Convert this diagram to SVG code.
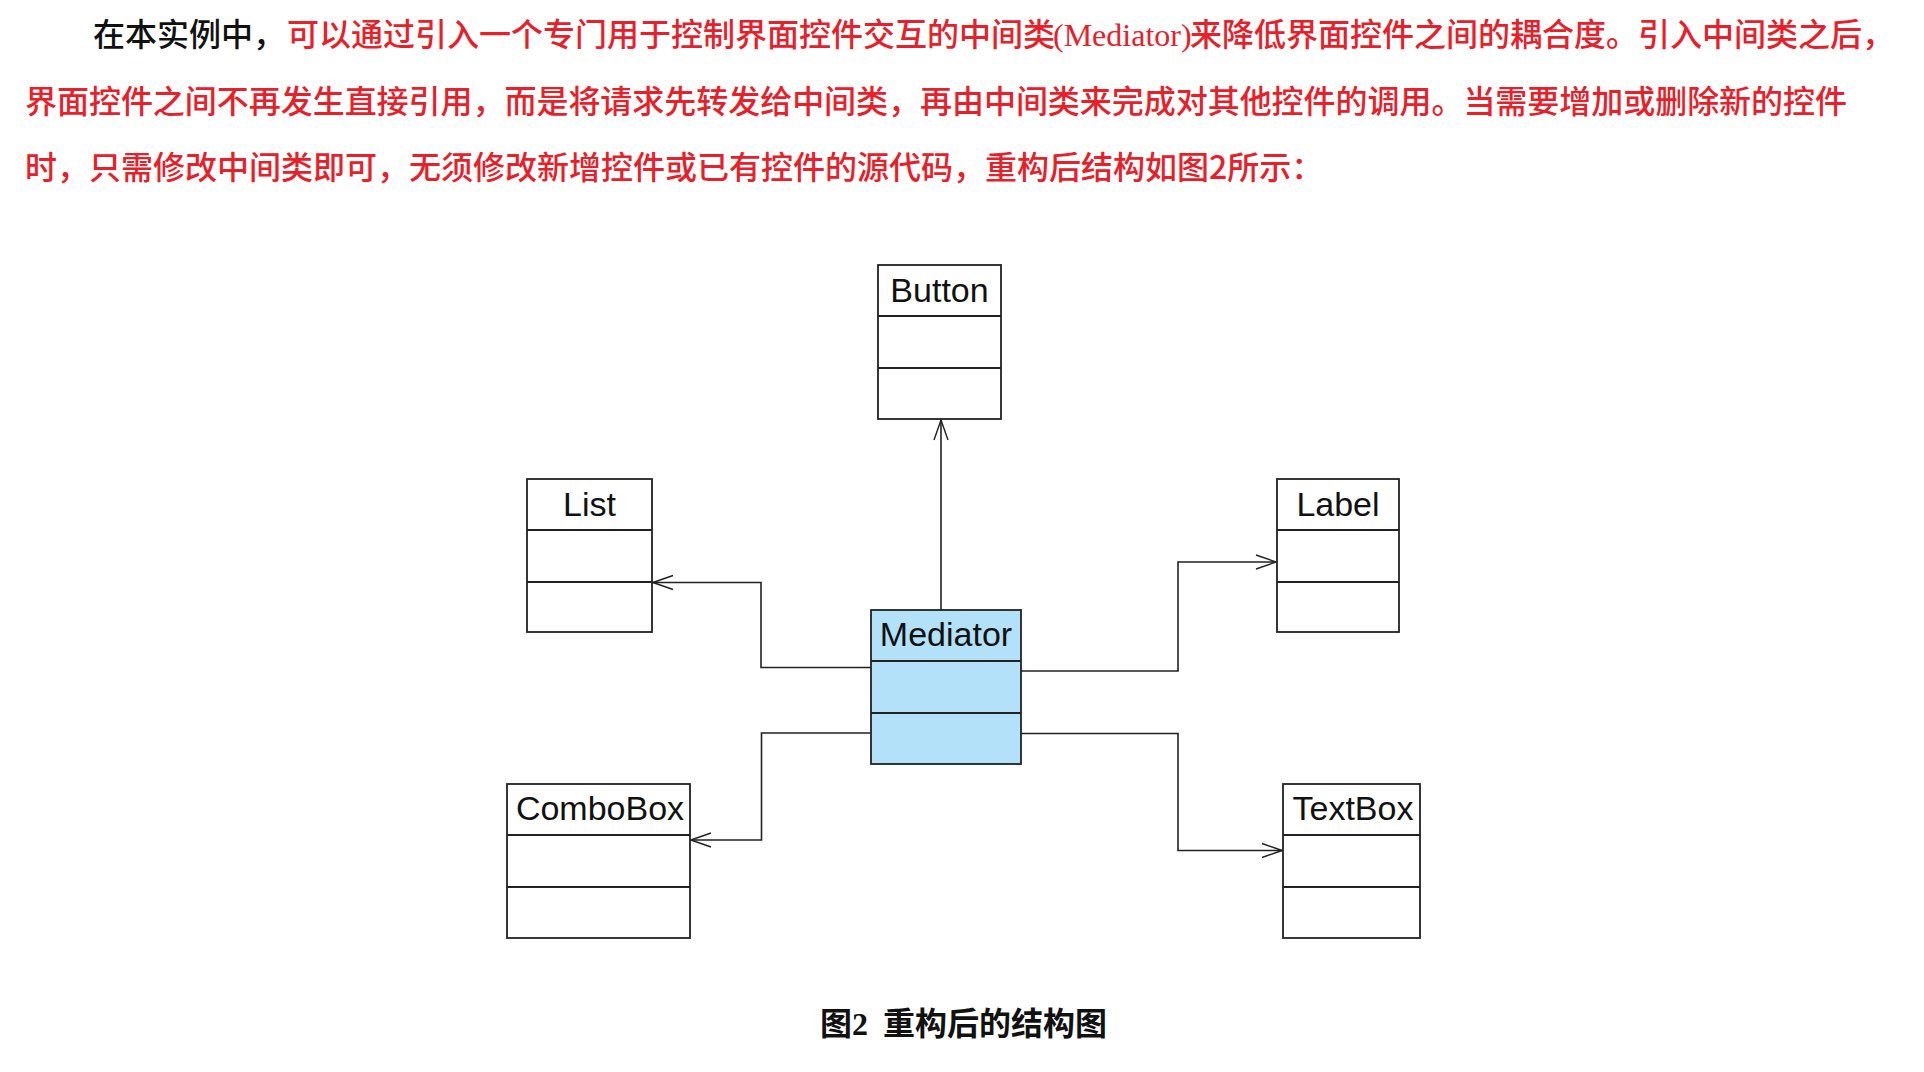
<svg xmlns="http://www.w3.org/2000/svg" width="1924" height="1072" viewBox="0 0 1924 1072">
  <style>
    .box { fill: #ffffff; stroke: #222222; stroke-width: 1.8; }
    .med { fill: #b4e1fa; stroke: #222222; stroke-width: 1.8; }
    .div { stroke: #222222; stroke-width: 1.8; }
    .cn { font-family: "Liberation Sans", Arial, sans-serif; font-size: 34px; fill: #111111; text-anchor: middle; }
    .conn { fill: none; stroke: #222222; stroke-width: 1.6; }
    .para { font-family: "Noto Sans CJK SC", "Noto Sans", sans-serif; font-size: 32px; font-weight: 500; fill: #e8202a; }
    .blk { fill: #111111; }
    .times { font-family: "Liberation Serif", "Times New Roman", serif; }
    .cap { font-family: "Noto Sans CJK SC", sans-serif; font-size: 32px; font-weight: bold; fill: #111111; }
  </style>
  <defs>
    <marker id="open" markerUnits="userSpaceOnUse" viewBox="0 0 22 18" refX="21" refY="9" markerWidth="22" markerHeight="18" orient="auto">
      <path d="M1,2 L21,9 L1,16" fill="none" stroke="#222222" stroke-width="1.4"/>
    </marker>
  </defs>

  <g id="paragraph">
    <text class="para" y="46"><tspan class="blk" x="93">在本实例中，</tspan><tspan x="287">可以通过引入一个专门用于控制界面控件交互的中间类</tspan><tspan class="times" x="1053">(Mediator)</tspan><tspan x="1190">来降低界面控件之间的耦合度。引入中间类之后，</tspan></text>
    <text class="para" x="25" y="113" textLength="1822" lengthAdjust="spacing">界面控件之间不再发生直接引用，而是将请求先转发给中间类，再由中间类来完成对其他控件的调用。当需要增加或删除新的控件</text>
    <text class="para" x="25" y="179">时，只需修改中间类即可，无须修改新增控件或已有控件的源代码，重构后结构如图2所示：</text>
  </g>

  <g id="connectors">
    <path class="conn" d="M941,610 V420" marker-end="url(#open)"/>
    <path class="conn" d="M871,667.5 H761 V582.5 H653" marker-end="url(#open)"/>
    <path class="conn" d="M871,733 H761.5 V840 H691" marker-end="url(#open)"/>
    <path class="conn" d="M1021,671 H1178 V562 H1276" marker-end="url(#open)"/>
    <path class="conn" d="M1021,733.5 H1178 V850.5 H1282" marker-end="url(#open)"/>
  </g>

  <g id="Button">
    <rect class="box" x="878" y="265" width="123" height="154"/>
    <line class="div" x1="878" y1="316" x2="1001" y2="316"/>
    <line class="div" x1="878" y1="368" x2="1001" y2="368"/>
    <text class="cn" x="939.5" y="302">Button</text>
  </g>

  <g id="List">
    <rect class="box" x="527" y="479" width="125" height="153"/>
    <line class="div" x1="527" y1="530" x2="652" y2="530"/>
    <line class="div" x1="527" y1="582" x2="652" y2="582"/>
    <text class="cn" x="589.5" y="516">List</text>
  </g>

  <g id="Label">
    <rect class="box" x="1277" y="479" width="122" height="153"/>
    <line class="div" x1="1277" y1="530" x2="1399" y2="530"/>
    <line class="div" x1="1277" y1="582" x2="1399" y2="582"/>
    <text class="cn" x="1338" y="516">Label</text>
  </g>

  <g id="Mediator">
    <rect class="med" x="871" y="610" width="150" height="154"/>
    <line class="div" x1="871" y1="661" x2="1021" y2="661"/>
    <line class="div" x1="871" y1="713" x2="1021" y2="713"/>
    <text class="cn" x="946" y="646">Mediator</text>
  </g>

  <g id="ComboBox">
    <rect class="box" x="507" y="784" width="183" height="154"/>
    <line class="div" x1="507" y1="835" x2="690" y2="835"/>
    <line class="div" x1="507" y1="887" x2="690" y2="887"/>
    <text class="cn" x="600" y="820">ComboBox</text>
  </g>

  <g id="TextBox">
    <rect class="box" x="1283" y="784" width="137" height="154"/>
    <line class="div" x1="1283" y1="835" x2="1420" y2="835"/>
    <line class="div" x1="1283" y1="887" x2="1420" y2="887"/>
    <text class="cn" x="1353" y="820">TextBox</text>
  </g>

  <g id="caption">
    <text class="cap" y="1035"><tspan x="820">图</tspan><tspan class="times" x="852">2</tspan><tspan x="883">重构后的结构图</tspan></text>
  </g>
</svg>
